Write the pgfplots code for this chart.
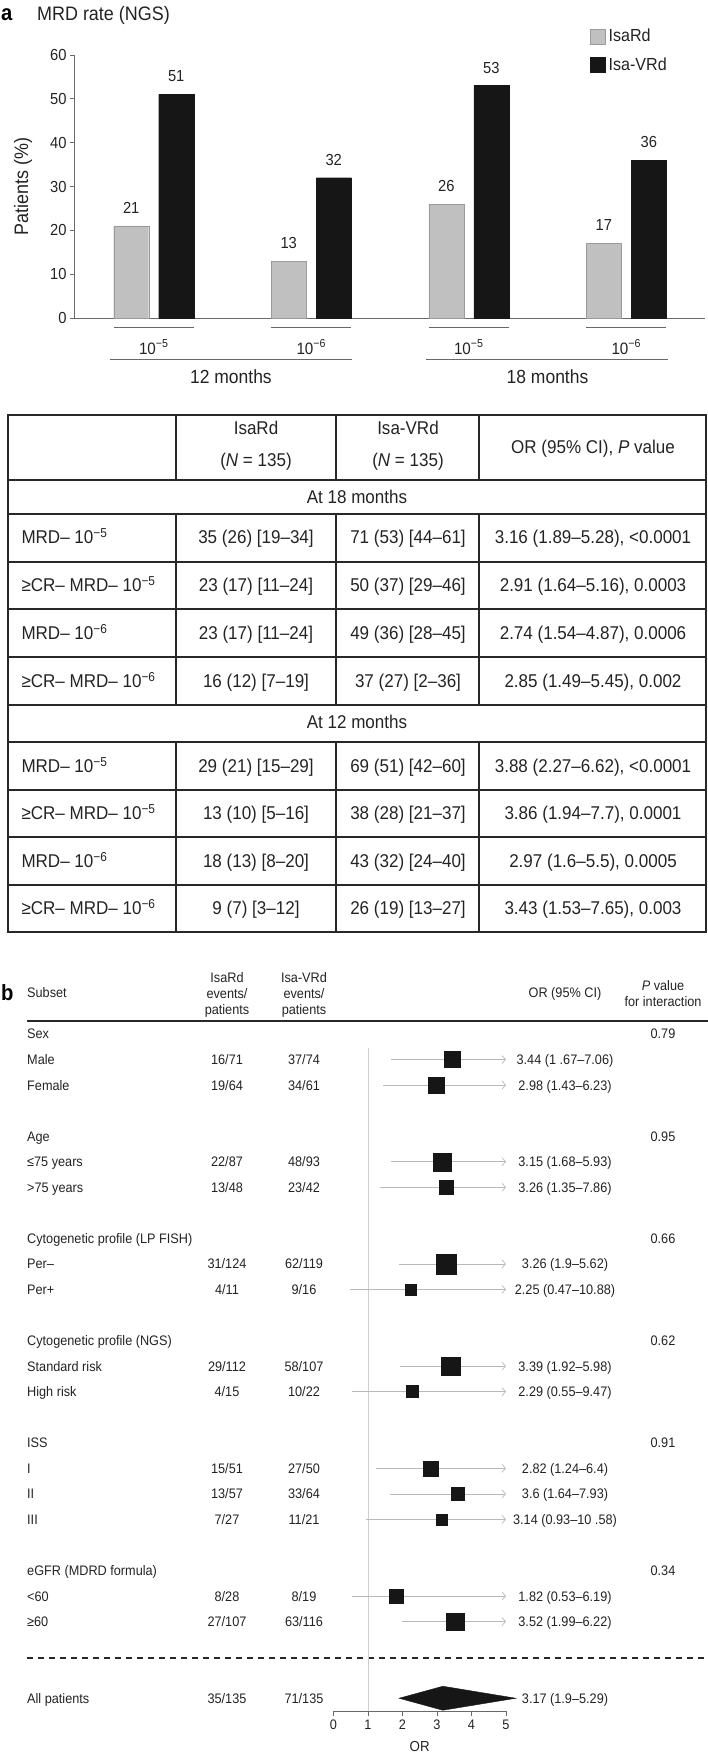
\documentclass[border=0pt]{standalone}
\usepackage{pgfplots}
\pgfplotsset{compat=1.18}
\usepackage{pgfplotstable}
\usepackage{fontspec}
\setmainfont{Liberation Sans}[FakeStretch=0.92]
\usetikzlibrary{arrows.meta}

\definecolor{isard}{RGB}{192,192,192}
\definecolor{isavrd}{RGB}{22,22,22}
\definecolor{axisgray}{RGB}{105,105,105}
\definecolor{txt}{RGB}{35,35,35}
\definecolor{rule}{RGB}{40,40,40}
\definecolor{cigray}{RGB}{185,185,185}
\definecolor{refgray}{RGB}{205,205,205}

\newcommand{\fs}[1]{\fontsize{#1}{#1}\selectfont}

% panel a: MRD rates (%)
\pgfplotstableread{
x isard isavrd
1 21 51
2 13 32
3 26 53
4 17 36
}\mrdrates

% panel b: subgroup odds ratios, row index from top, half-size of square (pt)
\pgfplotstableread{
row or lo sz
1 3.44 1.67 8.0
2 2.98 1.43 8.0
5 3.15 1.68 9.0
6 3.26 1.35 6.8
9 3.26 1.90 9.8
10 2.25 0.47 5.5
13 3.39 1.92 9.3
14 2.29 0.55 6.0
17 2.82 1.24 7.5
18 3.60 1.64 6.8
19 3.14 0.93 5.3
22 1.82 0.53 7.3
23 3.52 1.99 8.8
}\forest

% table cell text
\tikzset{ttxt/.style={font=\fs{18.5}, text=txt, text height=13.3pt, text depth=0pt}}
\newcommand{\tcell}[3]{\node[ttxt, anchor=center] at (#1pt,-#2pt) {#3};}
\newcommand{\tleft}[2]{\node[ttxt, anchor=west] at (18pt,-#1pt) {#2};}
\newcommand{\trow}[5]{\tleft{#1}{#2}\tcell{256}{#1}{#3}\tcell{408}{#1}{#4}\tcell{593}{#1}{#5}}

% forest plot row text
\tikzset{ftxt/.style={font=\fs{13.8}, text=txt, text height=9.9pt, text depth=0pt, inner sep=0pt}}
\newcommand{\frow}[6]{%
  \node[ftxt, anchor=west] at (27pt,-#1pt) {#2};
  \node[ftxt] at (227pt,-#1pt) {#3};
  \node[ftxt] at (304pt,-#1pt) {#4};
  \node[ftxt] at (565pt,-#1pt) {#5};
  \node[ftxt] at (663pt,-#1pt) {#6};}

\begin{document}
\begin{tikzpicture}
\useasboundingbox (0pt,0pt) rectangle (708pt,-1754pt);

% ---------------- panel a ----------------
\node[anchor=west, font=\bfseries\fs{22}, text=black, inner sep=0pt] at (1pt,-15pt) {a};
\node[anchor=west, font=\fs{19.5}, text=txt, inner sep=0pt] at (37pt,-15pt) {MRD rate (NGS)};

\begin{axis}[
  at={(75pt,-318pt)}, anchor=south west,
  scale only axis, width=630pt, height=263pt,
  xmin=0.5, xmax=4.5, ymin=0, ymax=60,
  axis x line*=bottom, axis y line*=left,
  axis line style={axisgray, line width=1pt},
  ybar=10pt, bar width=35pt,
  xtick=\empty,
  ytick={0,10,...,60},
  tick align=outside, major tick length=5pt,
  ytick style={axisgray, line width=0.8pt},
  yticklabel style={font=\fs{16}, text=txt},
  /pgf/number format/assume math mode=true,
  ylabel={Patients (\%)},
  ylabel style={font=\fs{19.5}, text=txt, at={(axis description cs:-0.0825,0.5)}, anchor=center},
  nodes near coords,
  every node near coord/.append style={font=\fs{16}, text=txt, anchor=center, yshift=18pt},
  clip=false,
  legend image code/.code={\draw[#1] (0pt,-7.5pt) rectangle (15pt,7.5pt);},
  legend style={draw=none, fill=none, inner sep=0pt, row sep=5pt,
    at={(axis description cs:0.8166,1.116)}, anchor=north west,
    font=\fs{17.5}, text=txt, nodes={inner xsep=3.5pt, inner ysep=4.5pt}},
  legend cell align=left,
]
\addplot[fill=isard, draw=isard!80!black, line width=0.4pt] table[x=x, y=isard] {\mrdrates};
\addplot[fill=isavrd, draw=isavrd, line width=0.4pt] table[x=x, y=isavrd] {\mrdrates};
\legend{IsaRd, Isa-VRd}

% group rules and threshold labels
\draw[axisgray, line width=1pt] ([yshift=-9pt]axis cs:0.746,0) -- ([yshift=-9pt]axis cs:1.254,0);
\draw[axisgray, line width=1pt] ([yshift=-9pt]axis cs:1.746,0) -- ([yshift=-9pt]axis cs:2.254,0);
\draw[axisgray, line width=1pt] ([yshift=-9pt]axis cs:2.746,0) -- ([yshift=-9pt]axis cs:3.254,0);
\draw[axisgray, line width=1pt] ([yshift=-9pt]axis cs:3.746,0) -- ([yshift=-9pt]axis cs:4.254,0);
\node[font=\fs{16.5}, text=txt] at ([yshift=-29pt]axis cs:1,0) {10\textsuperscript{−5}};
\node[font=\fs{16.5}, text=txt] at ([yshift=-29pt]axis cs:2,0) {10\textsuperscript{−6}};
\node[font=\fs{16.5}, text=txt] at ([yshift=-29pt]axis cs:3,0) {10\textsuperscript{−5}};
\node[font=\fs{16.5}, text=txt] at ([yshift=-29pt]axis cs:4,0) {10\textsuperscript{−6}};
\draw[axisgray, line width=1pt] ([yshift=-41pt]axis cs:0.72,0) -- ([yshift=-41pt]axis cs:2.259,0);
\draw[axisgray, line width=1pt] ([yshift=-41pt]axis cs:2.729,0) -- ([yshift=-41pt]axis cs:4.268,0);
\node[font=\fs{19}, text=txt] at ([yshift=-59pt]axis cs:1.49,0) {12 months};
\node[font=\fs{19}, text=txt] at ([yshift=-59pt]axis cs:3.5,0) {18 months};
\end{axis}

% ---------------- table ----------------
\begin{scope}[rule, line width=1.3pt]
  \draw (8pt,-415pt) rectangle (706pt,-932pt);
  \foreach \y in {480,514,562,609,657,705,742,790,837,885}
    \draw (8pt,-\y pt) -- (706pt,-\y pt);
  \foreach \x in {176,336,479} {
    \draw (\x pt,-415pt) -- (\x pt,-480pt);
    \draw (\x pt,-514pt) -- (\x pt,-705pt);
    \draw (\x pt,-742pt) -- (\x pt,-932pt);
  }
\end{scope}
\tcell{256}{428}{IsaRd}
\tcell{256}{460}{(\textit{N} = 135)}
\tcell{408}{428}{Isa-VRd}
\tcell{408}{460}{(\textit{N} = 135)}
\tcell{593}{447}{OR (95\% CI), \textit{P} value}
\tcell{357}{497}{At 18 months}
\trow{537}{MRD– 10\textsuperscript{−5}}{35 (26) [19–34]}{71 (53) [44–61]}{3.16 (1.89–5.28), <0.0001}
\trow{585}{≥CR– MRD– 10\textsuperscript{−5}}{23 (17) [11–24]}{50 (37) [29–46]}{2.91 (1.64–5.16), 0.0003}
\trow{633}{MRD– 10\textsuperscript{−6}}{23 (17) [11–24]}{49 (36) [28–45]}{2.74 (1.54–4.87), 0.0006}
\trow{681}{≥CR– MRD– 10\textsuperscript{−6}}{16 (12) [7–19]}{37 (27) [2–36]}{2.85 (1.49–5.45), 0.002}
\tcell{357}{722}{At 12 months}
\trow{766}{MRD– 10\textsuperscript{−5}}{29 (21) [15–29]}{69 (51) [42–60]}{3.88 (2.27–6.62), <0.0001}
\trow{813}{≥CR– MRD– 10\textsuperscript{−5}}{13 (10) [5–16]}{38 (28) [21–37]}{3.86 (1.94–7.7), 0.0001}
\trow{861}{MRD– 10\textsuperscript{−6}}{18 (13) [8–20]}{43 (32) [24–40]}{2.97 (1.6–5.5), 0.0005}
\trow{908}{≥CR– MRD– 10\textsuperscript{−6}}{9 (7) [3–12]}{26 (19) [13–27]}{3.43 (1.53–7.65), 0.003}

% ---------------- panel b ----------------
\node[anchor=west, font=\bfseries\fs{22}, text=black, inner sep=0pt] at (1pt,-993pt) {b};
\node[ftxt, anchor=west] at (27pt,-993pt) {Subset};
\node[ftxt] at (227pt,-978pt) {IsaRd};
\node[ftxt] at (227pt,-994pt) {events/};
\node[ftxt] at (227pt,-1010pt) {patients};
\node[ftxt] at (304pt,-978pt) {Isa-VRd};
\node[ftxt] at (304pt,-994pt) {events/};
\node[ftxt] at (304pt,-1010pt) {patients};
\node[ftxt] at (565pt,-993pt) {OR (95\% CI)};
\node[ftxt] at (663pt,-986pt) {\textit{P} value};
\node[ftxt] at (663pt,-1002pt) {for interaction};
\draw[rule, line width=1.2pt] (27pt,-1021pt) -- (708pt,-1021pt);
\draw[rule, line width=1.2pt, dash pattern=on 6pt off 5pt] (27pt,-1658pt) -- (708pt,-1658pt);

\frow{1034}{Sex}{}{}{}{0.79}
\frow{1059.5}{Male}{16/71}{37/74}{3.44 (1 .67–7.06)}{}
\frow{1085.1}{Female}{19/64}{34/61}{2.98 (1.43–6.23)}{}
\frow{1136.2}{Age}{}{}{}{0.95}
\frow{1161.7}{≤75 years}{22/87}{48/93}{3.15 (1.68–5.93)}{}
\frow{1187.3}{>75 years}{13/48}{23/42}{3.26 (1.35–7.86)}{}
\frow{1238.4}{Cytogenetic profile (LP FISH)}{}{}{}{0.66}
\frow{1263.9}{Per–}{31/124}{62/119}{3.26 (1.9–5.62)}{}
\frow{1289.5}{Per+}{4/11}{9/16}{2.25 (0.47–10.88)}{}
\frow{1340.6}{Cytogenetic profile (NGS)}{}{}{}{0.62}
\frow{1366.1}{Standard risk}{29/112}{58/107}{3.39 (1.92–5.98)}{}
\frow{1391.7}{High risk}{4/15}{10/22}{2.29 (0.55–9.47)}{}
\frow{1442.8}{ISS}{}{}{}{0.91}
\frow{1468.3}{I}{15/51}{27/50}{2.82 (1.24–6.4)}{}
\frow{1493.9}{II}{13/57}{33/64}{3.6 (1.64–7.93)}{}
\frow{1519.4}{III}{7/27}{11/21}{3.14 (0.93–10 .58)}{}
\frow{1570.5}{eGFR (MDRD formula)}{}{}{}{0.34}
\frow{1596.1}{<60}{8/28}{8/19}{1.82 (0.53–6.19)}{}
\frow{1621.6}{≥60}{27/107}{63/116}{3.52 (1.99–6.22)}{}
\frow{1698.3}{All patients}{35/135}{71/135}{3.17 (1.9–5.29)}{}

\begin{axis}[
  at={(333.5pt,-1711pt)}, anchor=south west,
  scale only axis, width=172.5pt, height=663pt,
  xmin=0, xmax=5, ymin=-26.5, ymax=-0.55,
  axis x line*=bottom, axis y line=none,
  axis line style={axisgray, line width=1pt},
  xtick={0,1,...,5},
  tick align=outside, major tick length=5pt,
  xtick style={axisgray, line width=0.8pt},
  xticklabel style={font=\fs{13.8}, text=txt},
  /pgf/number format/assume math mode=true,
  xlabel={OR},
  xlabel style={font=\fs{14.5}, text=txt, at={(axis description cs:0.5,-0.0528)}, anchor=center},
  clip=false,
]
\addplot[refgray, line width=0.8pt] coordinates {(1,-0.55) (1,-26.5)};
\pgfplotsinvokeforeach{0,...,12}{
  \pgfplotstablegetelem{#1}{row}\of\forest \edef\rr{\pgfplotsretval}
  \pgfplotstablegetelem{#1}{lo}\of\forest \edef\ll{\pgfplotsretval}
  \edef\cmd{\noexpand\addplot[cigray, line width=0.7pt, -{Straight Barb[length=3.5pt,width=8pt]}] coordinates {(\ll,-\rr) (5,-\rr)};}
  \cmd
}
\addplot[scatter, only marks, mark=square*,
  scatter/use mapped color={draw=isavrd, fill=isavrd},
  visualization depends on={\thisrow{sz} \as \sz},
  scatter/@pre marker code/.append style={/tikz/mark size=\sz pt}]
  table[x=or, y expr=-\thisrow{row}] {\forest};
\addplot[fill=isavrd, draw=isavrd] coordinates {(1.9,-26) (3.17,-25.53) (5.29,-26) (3.17,-26.47)} -- cycle;
\end{axis}
\end{tikzpicture}
\end{document}
